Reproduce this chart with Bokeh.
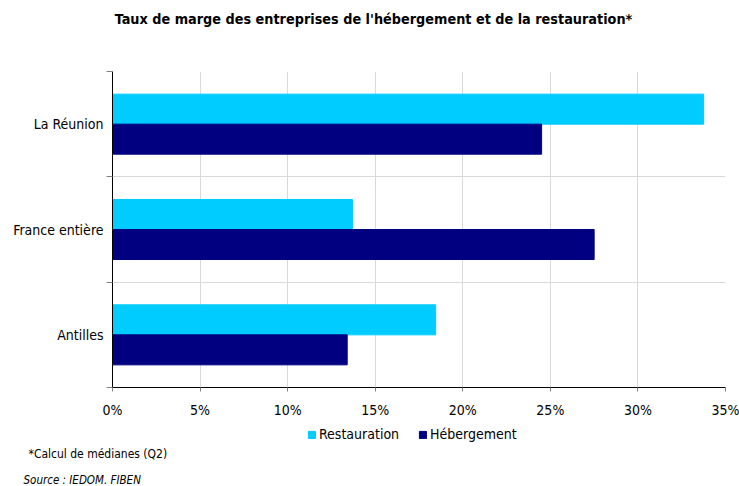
from bokeh.plotting import figure
from bokeh.layouts import column
from bokeh.models import (Range1d, FixedTicker, PrintfTickFormatter, Legend, LegendItem,
                          ColumnDataSource, Label)
from bokeh.embed import file_html
from bokeh.resources import INLINE

# ---- data (bottom -> top order) ----
categories = ["Antilles", "France entière", "La Réunion"]
restauration = [18.45, 13.7, 33.75]
hebergement = [13.4, 27.5, 24.5]
x_ticks = [0, 5, 10, 15, 20, 25, 30, 35]
series_names = ["Restauration", "Hébergement"]
colors = ["#00CCFF", "#000080"]

title_text = "Taux de marge des entreprises de l'hébergement et de la restauration*"
note_text = "*Calcul de médianes (Q2)"
source_text = "Source : IEDOM. FIBEN"

FONT = "DejaVu Sans Condensed"
W = 739


def blank(height):
    f = figure(width=W, height=height, output_backend="svg", toolbar_location=None,
               x_axis_type=None, y_axis_type=None, min_border=0, frame_align=False,
               x_range=Range1d(0, W), y_range=Range1d(0, height))
    f.outline_line_color = None
    f.xgrid.visible = False
    f.ygrid.visible = False
    return f


# ---- header with title ----
head = blank(50)
head.add_layout(Label(text=title_text, x=373, y=32, x_units="screen", y_units="screen",
                      text_align="center", text_baseline="middle", text_font=FONT,
                      text_font_style="bold", text_font_size="14.3px", text_color="black"))

# ---- main chart ----
n = len(categories)
centers = [i + 0.5 for i in range(n)]
bar_h = 0.285
src_r = ColumnDataSource(dict(y=[c + bar_h / 2 for c in centers], right=restauration))
src_h = ColumnDataSource(dict(y=[c - bar_h / 2 for c in centers], right=hebergement))

p = figure(width=W, height=370, output_backend="svg", toolbar_location=None, frame_align=False,
           x_range=Range1d(0, 35), y_range=Range1d(0, n),
           min_border_left=112, min_border_right=14, min_border_top=21, min_border_bottom=33)
p.outline_line_color = None

p.hbar(y="y", right="right", left=0, height=bar_h, source=src_r,
       fill_color=colors[0], line_color=colors[0])
p.hbar(y="y", right="right", left=0, height=bar_h, source=src_h,
       fill_color=colors[1], line_color=colors[1])

p.xaxis.ticker = FixedTicker(ticks=x_ticks)
p.xaxis.formatter = PrintfTickFormatter(format="%d%%")
p.xaxis.axis_line_color = "black"
p.xaxis.major_tick_line_color = "#808080"
p.xaxis.major_tick_out = 4
p.xaxis.major_tick_in = 0
p.xaxis.minor_tick_line_color = None
p.xaxis.major_label_text_font = FONT
p.xaxis.major_label_text_font_size = "14px"
p.xaxis.major_label_text_color = "black"
p.xaxis.major_label_standoff = 10

p.yaxis.ticker = FixedTicker(ticks=centers, minor_ticks=list(range(n + 1)))
p.yaxis.major_label_overrides = {c: lab for c, lab in zip(centers, categories)}
p.yaxis.axis_line_color = "black"
p.yaxis.major_tick_line_color = None
p.yaxis.major_tick_out = 0
p.yaxis.major_tick_in = 0
p.yaxis.minor_tick_line_color = "#808080"
p.yaxis.minor_tick_out = 6
p.yaxis.minor_tick_in = 0
p.yaxis.major_label_text_font = FONT
p.yaxis.major_label_text_font_size = "14px"
p.yaxis.major_label_text_color = "black"
p.yaxis.major_label_standoff = 3

p.xgrid.grid_line_color = "#d9d9d9"
p.ygrid.grid_line_color = None
p.ygrid.minor_grid_line_color = "#d9d9d9"

# ---- footer: legend + notes ----
foot = blank(66)
fr1 = foot.hbar(y=[-100], right=[1], left=0, height=1, fill_color=colors[0], line_color=colors[0])
fr2 = foot.hbar(y=[-100], right=[1], left=0, height=1, fill_color=colors[1], line_color=colors[1])
legend = Legend(items=[LegendItem(label=series_names[0], renderers=[fr1]),
                       LegendItem(label=series_names[1], renderers=[fr2])],
                orientation="horizontal", location=(307, 44),
                label_text_font=FONT, label_text_font_size="14px", label_text_color="black",
                glyph_width=9, glyph_height=9, label_height=9, spacing=19, label_standoff=3,
                border_line_color=None, background_fill_alpha=0,
                padding=0, margin=0)
foot.add_layout(legend)
foot.add_layout(Label(text=note_text, x=28, y=33, x_units="screen", y_units="screen",
                      text_baseline="alphabetic", text_font=FONT, text_font_size="12px",
                      text_color="black"))
foot.add_layout(Label(text=source_text, x=23, y=7, x_units="screen", y_units="screen",
                      text_baseline="alphabetic", text_font=FONT, text_font_size="11.5px",
                      text_font_style="italic", text_color="black"))

layout = column(head, p, foot, spacing=0)
open("out.html", "w").write(file_html(layout, INLINE))
